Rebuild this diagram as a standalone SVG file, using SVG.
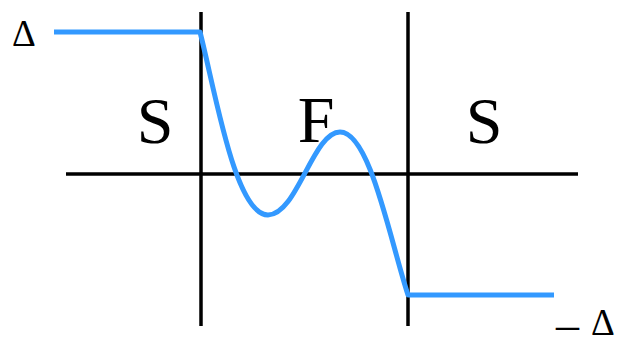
<svg xmlns="http://www.w3.org/2000/svg" width="621" height="338" viewBox="0 0 621 338">
<style>
.ax{stroke:#000;stroke-width:3.5;fill:none}
.cv{stroke:#3399ff;stroke-width:5;fill:none;stroke-linejoin:round}
.lb{font-family:"Liberation Serif","Times New Roman",serif;font-size:66px;fill:#000;text-anchor:middle}
.dl{font-family:"Liberation Serif","Times New Roman",serif;font-size:37px;fill:#000}
</style>
<rect width="621" height="338" fill="#fff"/>
<g id="connectors">
<line class="ax" x1="66" y1="174" x2="578" y2="174"/>
<line class="ax" x1="201" y1="12" x2="201" y2="326"/>
<line class="ax" x1="408" y1="12" x2="408" y2="326"/>
<path class="cv" d="M54,32 H200 C215,90 235,215 268,215 C297,215 313,132 340,132 C370,132 390,240 408,295 H554"/>
</g>
<g id="label-S1"><text class="lb" x="155" y="143">S</text></g>
<g id="label-F"><text class="lb" x="316" y="142">F</text></g>
<g id="label-S2"><text class="lb" x="484" y="143">S</text></g>
<g id="label-delta"><text class="dl" x="12" y="46">Δ</text></g>
<g id="label-mdelta"><text class="dl" y="335"><tspan x="556" y="340" font-size="46">–</tspan><tspan x="591" y="335">Δ</tspan></text></g>
</svg>
